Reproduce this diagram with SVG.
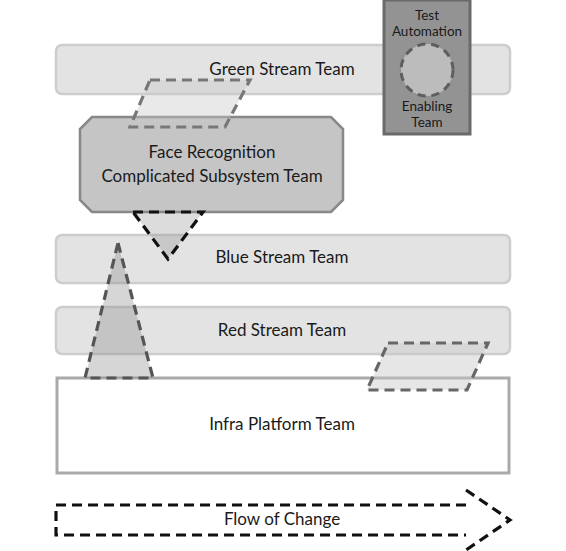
<svg xmlns="http://www.w3.org/2000/svg" width="566" height="551" viewBox="0 0 566 551">
<style>
.bar{fill:#e3e3e3;stroke:#cdcdcd;stroke-width:2.5}
.lbl{font-family:Lato,"Noto Sans",sans-serif;font-size:17px;fill:#1a1a1a;text-anchor:middle}
.sm{font-size:13.5px}
.dash{stroke-dasharray:10,6;stroke-width:3.2;fill:none}
</style>
<rect width="566" height="551" fill="#fff"/>
<g id="green"><rect class="bar" x="56" y="45" width="454" height="49" rx="6"/>
<text class="lbl" x="282" y="75">Green Stream Team</text></g>
<g id="blue"><rect class="bar" x="56" y="235" width="454" height="48" rx="6"/>
<text class="lbl" x="282" y="263">Blue Stream Team</text></g>
<g id="red"><rect class="bar" x="56" y="307" width="454" height="47" rx="6"/>
<text class="lbl" x="282" y="336">Red Stream Team</text></g>
<g id="infra"><rect x="57" y="378" width="452" height="95" fill="#fff" stroke="#aaa" stroke-width="3"/>
<text class="lbl" x="282" y="430">Infra Platform Team</text></g>
<g id="enabling"><rect x="384" y="0" width="86" height="134" fill="#939393" stroke="#6a6a6a" stroke-width="3"/>
<circle cx="427" cy="70" r="26" fill="#bcbcbc" stroke="#5e5e5e" stroke-width="3" stroke-dasharray="8,6"/>
<text class="lbl sm" x="427" y="20">Test</text>
<text class="lbl sm" x="427" y="36">Automation</text>
<text class="lbl sm" x="427" y="111">Enabling</text>
<text class="lbl sm" x="427" y="127">Team</text></g>
<g id="facerec"><polygon points="92,117 331,117 343,129 343,200 331,212 92,212 80,200 80,129" fill="#c5c5c5" stroke="#888" stroke-width="2.5"/>
<text class="lbl" x="212" y="158">Face Recognition</text>
<text class="lbl" x="212" y="182">Complicated Subsystem Team</text></g>
<g id="interactions">
<polygon points="150,80 250,80 225,127 130,127" stroke="#777" class="dash" style="fill:#c8c8c8;fill-opacity:0.4"/>
<polygon points="133,212 203,212 168,259" stroke="#111" class="dash" style="fill:#8a8a8a;fill-opacity:0.3"/>
<polygon points="118,243 153,378 85,378" stroke="#555" class="dash" style="fill:#8a8a8a;fill-opacity:0.35"/>
<polygon points="388,343 488,343 467,390 367,390" stroke="#666" class="dash" style="fill:#c8c8c8;fill-opacity:0.45"/>
</g>
<g id="flow">
<path d="M466,505 L56,505 L56,535 L466,535 M466,490 L510,520 L466,550" stroke="#111" class="dash"/>
<text class="lbl" x="282" y="525">Flow of Change</text></g>
</svg>
